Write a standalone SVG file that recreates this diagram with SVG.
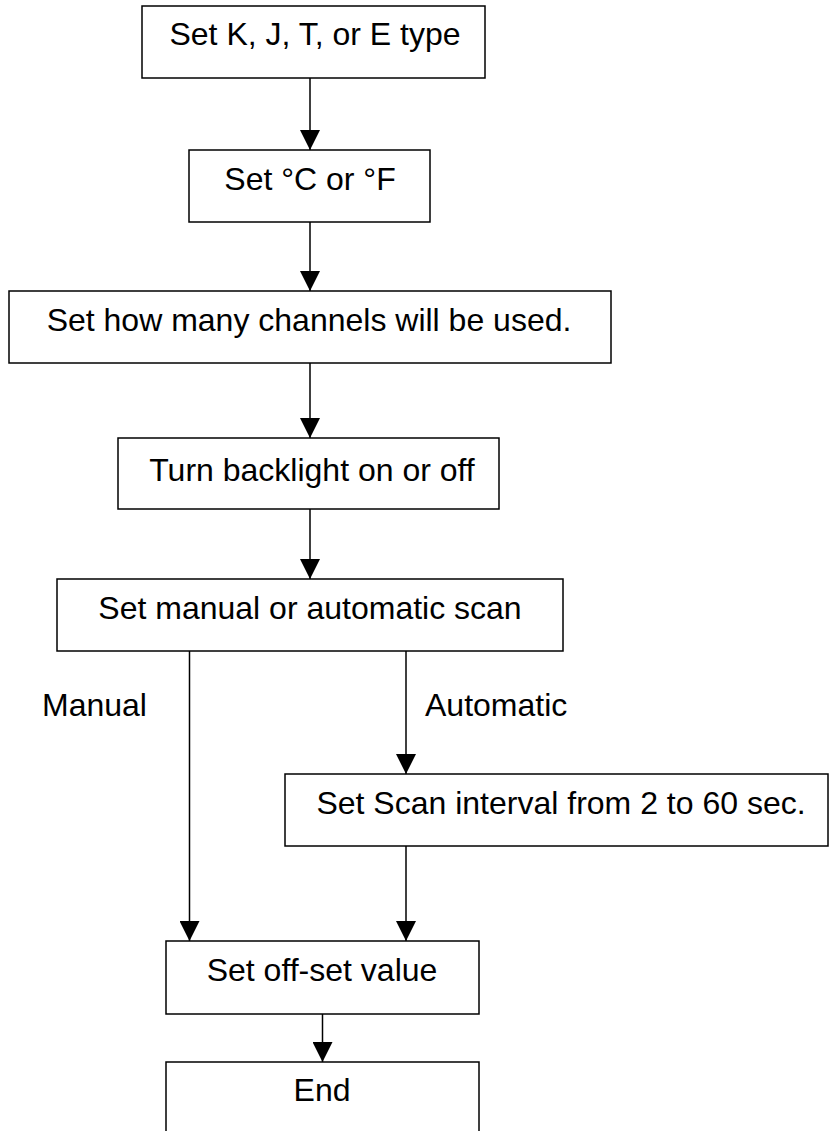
<svg xmlns="http://www.w3.org/2000/svg" width="829" height="1131" viewBox="0 0 829 1131">
  <style>
    .box { fill: #ffffff; stroke: #000000; stroke-width: 1.5; }
    .lbl { font-family: "Liberation Sans", Arial, sans-serif; font-size: 32px; fill: #000000; }
    .mid { text-anchor: middle; }
    .conn { stroke: #000000; stroke-width: 1.5; fill: none; marker-end: url(#arrow); }
  </style>
  <defs>
    <marker id="arrow" markerUnits="userSpaceOnUse" markerWidth="20" markerHeight="20" refX="20" refY="10" orient="auto">
      <path d="M0,0 L20,10 L0,20 Z" fill="#000000"/>
    </marker>
  </defs>
  <rect width="829" height="1131" fill="#ffffff"/>

  <g id="connectors">
    <line class="conn" x1="310" y1="78" x2="310" y2="150"/>
    <line class="conn" x1="310" y1="222" x2="310" y2="291"/>
    <line class="conn" x1="310" y1="363" x2="310" y2="438"/>
    <line class="conn" x1="310" y1="509" x2="310" y2="579"/>
    <line class="conn" x1="189.5" y1="651" x2="189.5" y2="941"/>
    <line class="conn" x1="406" y1="651" x2="406" y2="774"/>
    <line class="conn" x1="406" y1="846" x2="406" y2="941"/>
    <line class="conn" x1="322.5" y1="1014" x2="322.5" y2="1062"/>
    <text class="lbl" x="42" y="716">Manual</text>
    <text class="lbl" x="425" y="716">Automatic</text>
  </g>

  <g id="node-type">
    <rect class="box" x="142" y="6" width="343" height="72"/>
    <text class="lbl mid" x="315" y="45">Set K, J, T, or E type</text>
  </g>
  <g id="node-unit">
    <rect class="box" x="189" y="150" width="241" height="72"/>
    <text class="lbl mid" x="310" y="190">Set °C or °F</text>
  </g>
  <g id="node-channels">
    <rect class="box" x="9" y="291" width="602" height="72"/>
    <text class="lbl mid" x="309" y="331">Set how many channels will be used.</text>
  </g>
  <g id="node-backlight">
    <rect class="box" x="118" y="438" width="381" height="71"/>
    <text class="lbl mid" x="312" y="481">Turn backlight on or off</text>
  </g>
  <g id="node-scan">
    <rect class="box" x="57" y="579" width="506" height="72"/>
    <text class="lbl mid" x="310" y="619">Set manual or automatic scan</text>
  </g>
  <g id="node-interval">
    <rect class="box" x="285" y="774" width="543" height="72"/>
    <text class="lbl mid" x="561" y="814">Set Scan interval from 2 to 60 sec.</text>
  </g>
  <g id="node-offset">
    <rect class="box" x="166" y="941" width="313" height="73"/>
    <text class="lbl mid" x="322" y="981">Set off-set value</text>
  </g>
  <g id="node-end">
    <rect class="box" x="166" y="1062" width="313" height="90"/>
    <text class="lbl mid" x="322" y="1101">End</text>
  </g>
</svg>
